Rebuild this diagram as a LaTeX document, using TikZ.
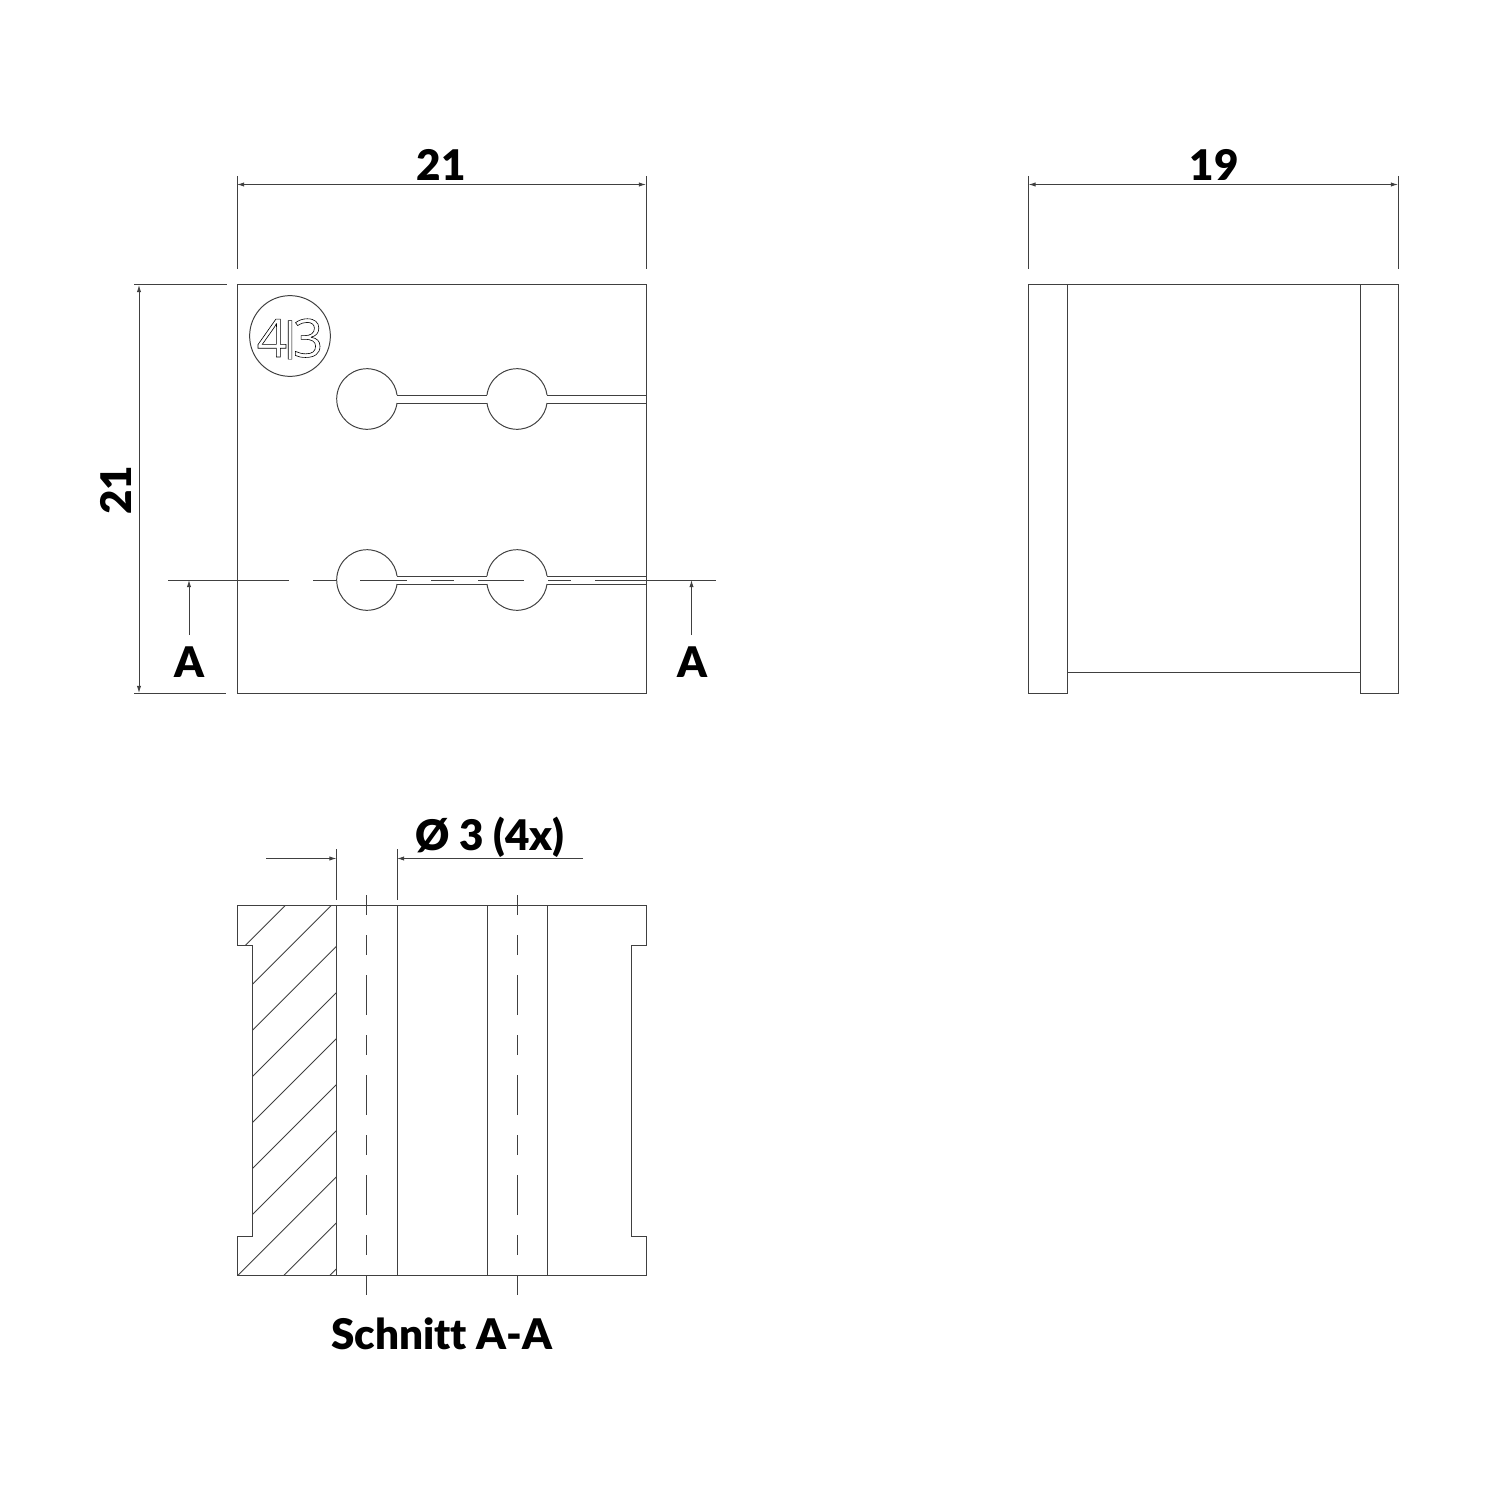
\documentclass[tikz,border=0pt]{standalone}
\usepackage{fontspec}
\setmainfont{Lato}[BoldFont={Lato Black},Ligatures=NoCommon]
\newfontfamily\logofont{Open Sans}
\usepackage{tikz}
\usetikzlibrary{arrows.meta}
\tikzset{
  part/.style={draw=black!75, line width=0.28pt},
  thinl/.style={draw=black!75, line width=0.25pt},
  dim/.style={thinl, {Latex[length=2pt,width=1.2pt]}-{Latex[length=2pt,width=1.2pt]}},
  dimr/.style={thinl, -{Latex[length=2pt,width=1.2pt]}},
  lab/.style={font=\bfseries\fontsize{12}{14}\selectfont, inner sep=0pt},
  logotext/.style={font=\logofont\fontsize{15}{17}\selectfont, inner sep=0pt},
}
\newcommand{\outlined}[1]{\special{pdf:code q 1 Tr 0.17 w}#1\special{pdf:code Q}}
\begin{document}
\begin{tikzpicture}[x=0.01cm,y=-0.01cm]
  \useasboundingbox (0,0) rectangle (1500,1500);

  % front view
  \draw[part] (237,284.5) rectangle (646,693);
  \node[part,circle,minimum size=81pt*0.2835,inner sep=0pt] (logo) at (290,336) {};
  \node[logotext] (logotxt) at (290,339) {\outlined{4\kern-3.3pt\raisebox{2pt}{\scalebox{1}[0.73]{|}}\kern-3.3pt 3}};
  \foreach \y/\n in {399/upper,580/lower} {
    \draw[part] (367,\y) ++(7.6:30.3) arc (7.6:352.4:30.3);
    \draw[part] (517,\y) ++(172.4:30.3) arc (172.4:7.6:30.3);
    \draw[part] (517,\y) ++(-172.4:30.3) arc (-172.4:-7.6:30.3);
    \draw[part] (397,\y-4) -- (487,\y-4);
    \draw[part] (397,\y+4) -- (487,\y+4);
    \draw[part] (547,\y-4) -- (646,\y-4);
    \draw[part] (547,\y+4) -- (646,\y+4);
  }
  % section line
  \foreach \a/\b in {168/289,313/337,360/407,431/454,478/524,548/571,595/716}
    \draw[thinl] (\a,580) -- (\b,580);
  \coordinate (cutl) at (189,580);
  \coordinate (cutr) at (691.5,580);
  \node[lab] (al) at (189.5,662) {A};
  \node[lab] (ar) at (692,662) {A};
  \draw[dimr] (189,635) -- (cutl);
  \draw[dimr] (691.5,635) -- (cutr);

  % dimensions front
  \draw[thinl] (237,176) -- (237,269);
  \draw[thinl] (646,176) -- (646,269);
  \draw[dim] (237,184.5) -- (646,184.5);
  \node[lab] (w) at (441,165) {21};
  \draw[thinl] (134,284.5) -- (227,284.5);
  \draw[thinl] (134,693.5) -- (226,693.5);
  \draw[dim] (139,285) -- (139,693);
  \node[lab,rotate=90] (h) at (116,490) {21};

  % side view
  \draw[part] (1067.5,693) -- (1028.5,693) -- (1028.5,284.5) -- (1398,284.5) -- (1398,693) -- (1360,693);
  \draw[part] (1067.5,284.5) -- (1067.5,693);
  \draw[part] (1360,284.5) -- (1360,693);
  \draw[part] (1067.5,672) -- (1360,672);
  \draw[thinl] (1028.5,176) -- (1028.5,269);
  \draw[thinl] (1398,176) -- (1398,269);
  \draw[dim] (1028.5,184.5) -- (1398,184.5);
  \node[lab] (d) at (1214,165) {19};

  % section
  \draw[part] (237,905.5) -- (646,905.5) -- (646,945) -- (631.5,945) -- (631.5,1236)
    -- (646,1236) -- (646,1275.5) -- (237,1275.5) -- (237,1236) -- (252.5,1236)
    -- (252.5,945) -- (237,945) -- cycle;
  \foreach \x in {336.5,397,487,547}
    \draw[part] (\x,905.5) -- (\x,1275.5);
  \begin{scope}
    \clip (237,905.5) -- (336.5,905.5) -- (336.5,1275.5) -- (237,1275.5) -- (237,1236)
      -- (252.5,1236) -- (252.5,945) -- (237,945) -- cycle;
    \foreach \k in {0,...,9}
      \draw[thinl] ({1190.7+46.06*\k-100},100) -- ({1190.7+46.06*\k-1400},1400);
  \end{scope}
  \foreach \x in {366.5,517}
    \foreach \a/\b in {895/915,935/955,975/1015,1035/1055,1075/1115,1135/1155,1175/1215,1235/1255,1275/1295}
      \draw[thinl] (\x,\a) -- (\x,\b);

  % hole dimension
  \draw[thinl] (336.5,849) -- (336.5,900);
  \draw[thinl] (397,849) -- (397,900);
  \draw[dimr] (266,858.5) -- (336.5,858.5);
  \draw[dimr] (583,858.5) -- (397,858.5);
  \node[lab] (dia) at (490,837) {Ø 3 (4x)};
  \node[lab] (title) at (442,1334) {Schnitt A-A};
\end{tikzpicture}
\end{document}
